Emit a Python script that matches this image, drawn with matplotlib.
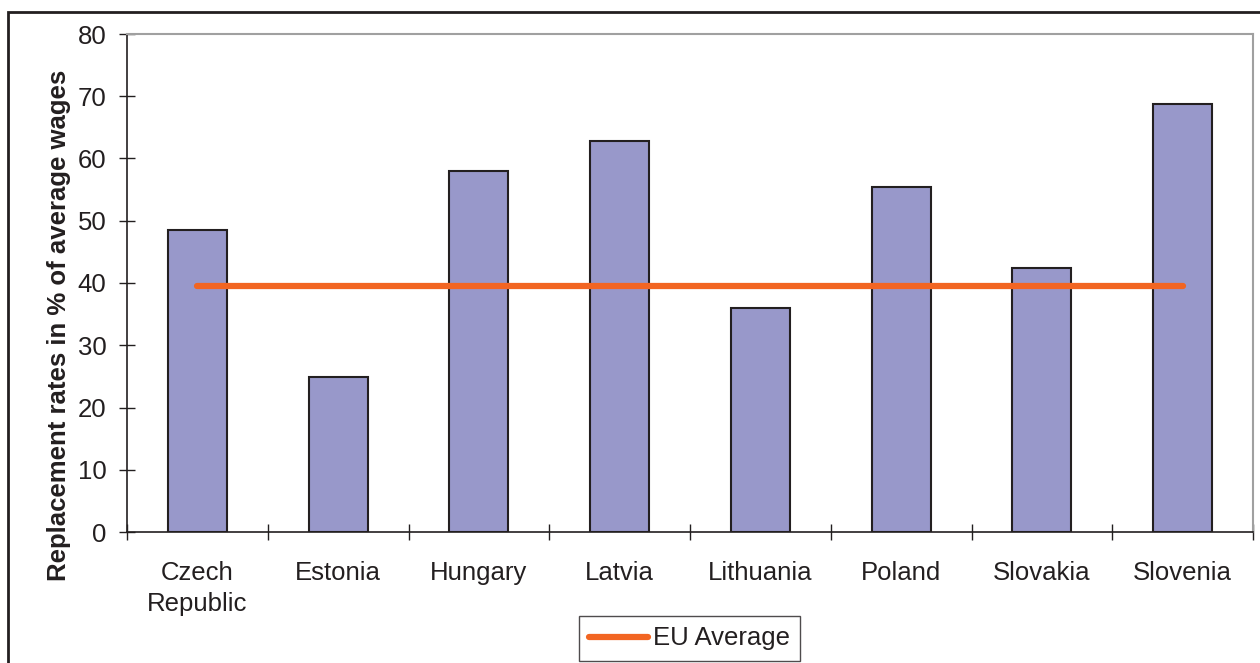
import matplotlib
matplotlib.use("Agg")
import matplotlib.pyplot as plt
from matplotlib.patches import Rectangle

countries = ["Czech\nRepublic", "Estonia", "Hungary", "Latvia", "Lithuania",
             "Poland", "Slovakia", "Slovenia"]
replacement = [48.5, 24.9, 58.0, 62.8, 36.0, 55.4, 42.4, 68.7]
eu_average = [39.5] * len(countries)
yticks = [0, 10, 20, 30, 40, 50, 60, 70, 80]

plt.rcParams['font.family'] = ['Liberation Sans', 'DejaVu Sans']
FS = 18.5

fig = plt.figure(figsize=(12.6, 6.63), dpi=100)
ax = fig.add_axes([127/1260, 1-532/663, (1253-127)/1260, (532-34)/663])

x = list(range(len(countries)))
ax.bar(x, replacement, width=0.42, color='#9898CA', edgecolor='#231F20',
       linewidth=1.5, zorder=2)
ax.plot(x, eu_average, color='#F26522', linewidth=4.5, solid_capstyle='round',
        label='EU Average', zorder=3)

ax.set_xlim(-0.5, len(countries) - 0.5)
ax.set_ylim(0, 80)
ax.set_yticks(yticks)
ax.set_xticks(x)
ax.set_xticklabels(countries, fontsize=FS, color='#231F20', linespacing=1.35)
ax.set_xticks([i - 0.5 for i in range(len(countries) + 1)], minor=True)
ax.tick_params(axis='x', which='major', length=0, pad=21)
ax.tick_params(axis='x', which='minor', direction='inout', length=11.5,
               width=1, color='#231F20')
ax.tick_params(axis='y', direction='inout', length=11.5, width=1,
               color='#231F20', labelsize=FS, labelcolor='#231F20', pad=9)

for s in ['left', 'bottom']:
    ax.spines[s].set_color('#231F20')
    ax.spines[s].set_linewidth(1.2)
for s in ['top', 'right']:
    ax.spines[s].set_color('#A0A0A0')
    ax.spines[s].set_linewidth(1.5)

ax.set_ylabel('Replacement rates in % of average wages', fontsize=FS,
              fontweight='bold', color='#231F20')
ax.yaxis.set_label_coords(-0.05, 0.4157)

leg = fig.legend(loc='center', bbox_to_anchor=(689.5/1260, 1-638.5/663),
                 fontsize=FS, frameon=True, fancybox=False, handlelength=2.3,
                 handletextpad=0.2, borderpad=0.4, borderaxespad=0)
leg.get_frame().set_edgecolor('#231F20')
leg.get_frame().set_linewidth(1)
for t in leg.get_texts():
    t.set_color('#231F20')

border = Rectangle((8/1260, -0.05), 1.1, 1.05 - 12/663, transform=fig.transFigure,
                   fill=False, edgecolor='#231F20', linewidth=2, clip_on=False)
fig.patches.append(border)

fig.savefig('out.png', dpi=100)
